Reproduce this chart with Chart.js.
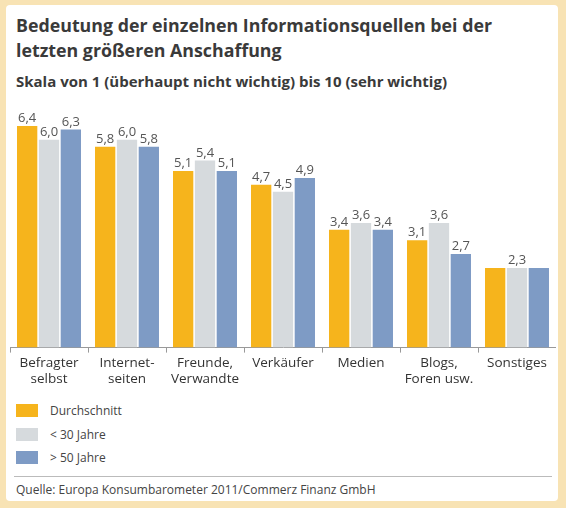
<!DOCTYPE html>
<html lang="de">
<head>
<meta charset="UTF-8">
<script src="https://cdn.jsdelivr.net/npm/chart.js"></script>
<title>Informationsquellen</title>
<style>
  body { margin: 0; width: 566px; height: 508px; background: #f8e3b4; font-family: "Open Sans", "DejaVu Sans", sans-serif; }
  #frame { position: absolute; left: 6px; top: 5px; width: 552px; height: 496px; background: #fff; border-radius: 4px; }
  h1 { position: absolute; left: 10px; top: 8px; margin: 0; font-size: 17.8px; line-height: 25px; font-weight: bold; color: #3a3a3a; }
  h2 { position: absolute; left: 10px; top: 66px; margin: 0; font-size: 15px; font-weight: bold; color: #3a3a3a; }
  #wrap { position: absolute; left: 4px; top: 102px; width: 546px; height: 282px; }
  #legend { position: absolute; left: 10px; top: 394px; font-size: 12px; color: #444; }
  #legend div { height: 23.5px; display: flex; align-items: center; }
  #legend span { display: inline-block; width: 22px; height: 13px; margin-right: 12px; }
  #rule { position: absolute; left: 8px; top: 471px; width: 538px; border-top: 1px solid #bbb; }
  #src { position: absolute; left: 10px; top: 476px; font-size: 12px; color: #444; }
</style>
</head>
<body>
<div id="frame">
  <h1>Bedeutung der einzelnen Informationsquellen bei der<br>letzten größeren Anschaffung</h1>
  <h2>Skala von 1 (überhaupt nicht wichtig) bis 10 (sehr wichtig)</h2>
  <div id="wrap"><canvas id="chart"></canvas></div>
  <div id="legend"></div>
  <div id="rule"></div>
  <div id="src">Quelle: Europa Konsumbarometer 2011/Commerz Finanz GmbH</div>
</div>
<script>
const categories = [["Befragter", "selbst"], ["Internet-", "seiten"], ["Freunde,", "Verwandte"], "Verkäufer", "Medien", ["Blogs,", "Foren usw."], "Sonstiges"];
const seriesNames = ["Durchschnitt", "< 30 Jahre", "> 50 Jahre"];
const durchschnitt = [6.4, 5.8, 5.1, 4.7, 3.4, 3.1, 2.3];
const unter30 = [6.0, 6.0, 5.4, 4.5, 3.6, 3.6, 2.3];
const ueber50 = [6.3, 5.8, 5.1, 4.9, 3.4, 2.7, 2.3];
// Sonstiges: only one shared label shown
const showLabel = [[1,1,1,1,1,1,0],[1,1,1,1,1,1,1],[1,1,1,1,1,1,0]];
const colors = ["#f6b41c", "#d6dadd", "#7e9bc5"];

const legend = document.getElementById('legend');
seriesNames.forEach((n, i) => {
  legend.innerHTML += '<div><span style="background:' + colors[i] + '"></span>' + n.replace('<', '&lt;').replace('>', '&gt;') + '</div>';
});

const valueLabels = {
  id: 'valueLabels',
  afterDatasetsDraw(chart) {
    const c = chart.ctx;
    c.save();
    c.font = '13px "Open Sans", sans-serif';
    c.fillStyle = '#555';
    c.textAlign = 'center';
    c.textBaseline = 'bottom';
    chart.data.datasets.forEach((ds, di) => {
      chart.getDatasetMeta(di).data.forEach((bar, i) => {
        if (!showLabel[di][i]) return;
        c.fillText(ds.data[i].toFixed(1).replace('.', ','), bar.x, bar.y - 1);
      });
    });
    c.restore();
  }
};

new Chart(document.getElementById('chart'), {
  type: 'bar',
  data: {
    labels: categories,
    datasets: [durchschnitt, unter30, ueber50].map((d, i) => ({
      label: seriesNames[i], data: d, backgroundColor: colors[i],
      categoryPercentage: 0.84, barPercentage: 0.93
    }))
  },
  options: {
    responsive: true, maintainAspectRatio: false, animation: false,
    layout: { padding: { top: 12 } },
    plugins: { legend: { display: false }, tooltip: { enabled: false } },
    scales: {
      y: { display: false, min: 0, max: 6.6 },
      x: {
        offset: true,
        grid: { offset: true, drawOnChartArea: false, tickLength: 5, color: '#999' },
        border: { color: '#999' },
        ticks: { color: '#333', font: { size: 13.5, family: '"Open Sans", sans-serif' }, padding: 2 }
      }
    }
  },
  plugins: [valueLabels]
});
</script>
</body>
</html>
